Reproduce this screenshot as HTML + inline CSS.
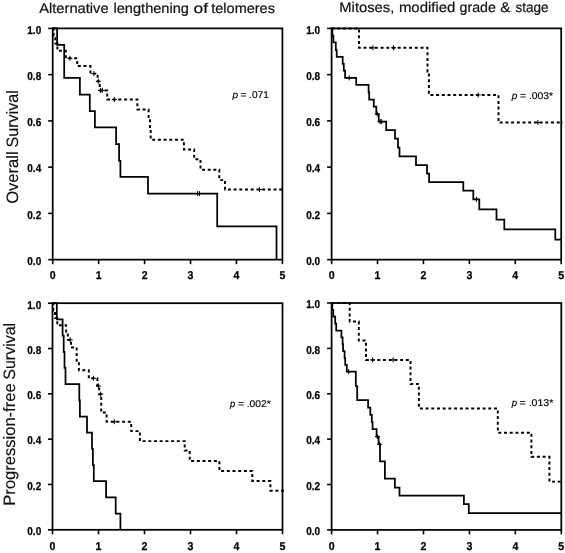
<!DOCTYPE html>
<html><head><meta charset="utf-8"><style>
html,body{margin:0;padding:0;background:#fff;}
svg{display:block;will-change:transform;}
text{font-family:"Liberation Sans",sans-serif;fill:#000;stroke:none;text-rendering:geometricPrecision;}
.tk{font-size:11.3px;font-weight:bold;stroke:#000;stroke-width:0.25px;}
.ti{font-size:14px;fill:#111;stroke:#111;stroke-width:0.2px;}
.yl{font-size:16.5px;fill:#111;stroke:#111;stroke-width:0.15px;}
.pv{font-size:9.8px;stroke:#000;stroke-width:0.15px;}
</style></head><body>
<svg width="565" height="553" viewBox="0 0 565 553">
<rect width="565" height="553" fill="#fff"/>
<g stroke="#000" stroke-linecap="butt" fill="none">
<rect x="52.70" y="28.40" width="229.70" height="231.25" fill="none" stroke-width="1.75"/>
<line x1="52.70" y1="259.65" x2="52.70" y2="264.15" stroke-width="1.6"/>
<text class="tk" x="52.70" y="278.8" text-anchor="middle" textLength="5.9" lengthAdjust="spacingAndGlyphs">0</text>
<line x1="98.64" y1="259.65" x2="98.64" y2="264.15" stroke-width="1.6"/>
<text class="tk" x="98.64" y="278.8" text-anchor="middle" textLength="5.9" lengthAdjust="spacingAndGlyphs">1</text>
<line x1="144.58" y1="259.65" x2="144.58" y2="264.15" stroke-width="1.6"/>
<text class="tk" x="144.58" y="278.8" text-anchor="middle" textLength="5.9" lengthAdjust="spacingAndGlyphs">2</text>
<line x1="190.52" y1="259.65" x2="190.52" y2="264.15" stroke-width="1.6"/>
<text class="tk" x="190.52" y="278.8" text-anchor="middle" textLength="5.9" lengthAdjust="spacingAndGlyphs">3</text>
<line x1="236.46" y1="259.65" x2="236.46" y2="264.15" stroke-width="1.6"/>
<text class="tk" x="236.46" y="278.8" text-anchor="middle" textLength="5.9" lengthAdjust="spacingAndGlyphs">4</text>
<line x1="282.40" y1="259.65" x2="282.40" y2="264.15" stroke-width="1.6"/>
<text class="tk" x="282.40" y="278.8" text-anchor="middle" textLength="5.9" lengthAdjust="spacingAndGlyphs">5</text>
<line x1="48.20" y1="259.65" x2="52.70" y2="259.65" stroke-width="1.6"/>
<text class="tk" x="41.2" y="264.95" text-anchor="end" textLength="13.9" lengthAdjust="spacingAndGlyphs">0.0</text>
<line x1="48.20" y1="213.40" x2="52.70" y2="213.40" stroke-width="1.6"/>
<text class="tk" x="41.2" y="218.70" text-anchor="end" textLength="13.9" lengthAdjust="spacingAndGlyphs">0.2</text>
<line x1="48.20" y1="167.15" x2="52.70" y2="167.15" stroke-width="1.6"/>
<text class="tk" x="41.2" y="172.45" text-anchor="end" textLength="13.9" lengthAdjust="spacingAndGlyphs">0.4</text>
<line x1="48.20" y1="120.90" x2="52.70" y2="120.90" stroke-width="1.6"/>
<text class="tk" x="41.2" y="126.20" text-anchor="end" textLength="13.9" lengthAdjust="spacingAndGlyphs">0.6</text>
<line x1="48.20" y1="74.65" x2="52.70" y2="74.65" stroke-width="1.6"/>
<text class="tk" x="41.2" y="79.95" text-anchor="end" textLength="13.9" lengthAdjust="spacingAndGlyphs">0.8</text>
<line x1="48.20" y1="28.40" x2="52.70" y2="28.40" stroke-width="1.6"/>
<text class="tk" x="41.2" y="33.70" text-anchor="end" textLength="13.9" lengthAdjust="spacingAndGlyphs">1.0</text>
<rect x="331.60" y="28.40" width="229.60" height="231.25" fill="none" stroke-width="1.75"/>
<line x1="331.60" y1="259.65" x2="331.60" y2="264.15" stroke-width="1.6"/>
<text class="tk" x="331.60" y="278.8" text-anchor="middle" textLength="5.9" lengthAdjust="spacingAndGlyphs">0</text>
<line x1="377.52" y1="259.65" x2="377.52" y2="264.15" stroke-width="1.6"/>
<text class="tk" x="377.52" y="278.8" text-anchor="middle" textLength="5.9" lengthAdjust="spacingAndGlyphs">1</text>
<line x1="423.44" y1="259.65" x2="423.44" y2="264.15" stroke-width="1.6"/>
<text class="tk" x="423.44" y="278.8" text-anchor="middle" textLength="5.9" lengthAdjust="spacingAndGlyphs">2</text>
<line x1="469.36" y1="259.65" x2="469.36" y2="264.15" stroke-width="1.6"/>
<text class="tk" x="469.36" y="278.8" text-anchor="middle" textLength="5.9" lengthAdjust="spacingAndGlyphs">3</text>
<line x1="515.28" y1="259.65" x2="515.28" y2="264.15" stroke-width="1.6"/>
<text class="tk" x="515.28" y="278.8" text-anchor="middle" textLength="5.9" lengthAdjust="spacingAndGlyphs">4</text>
<line x1="561.20" y1="259.65" x2="561.20" y2="264.15" stroke-width="1.6"/>
<text class="tk" x="561.20" y="278.8" text-anchor="middle" textLength="5.9" lengthAdjust="spacingAndGlyphs">5</text>
<line x1="327.10" y1="259.65" x2="331.60" y2="259.65" stroke-width="1.6"/>
<text class="tk" x="320.1" y="264.95" text-anchor="end" textLength="13.9" lengthAdjust="spacingAndGlyphs">0.0</text>
<line x1="327.10" y1="213.40" x2="331.60" y2="213.40" stroke-width="1.6"/>
<text class="tk" x="320.1" y="218.70" text-anchor="end" textLength="13.9" lengthAdjust="spacingAndGlyphs">0.2</text>
<line x1="327.10" y1="167.15" x2="331.60" y2="167.15" stroke-width="1.6"/>
<text class="tk" x="320.1" y="172.45" text-anchor="end" textLength="13.9" lengthAdjust="spacingAndGlyphs">0.4</text>
<line x1="327.10" y1="120.90" x2="331.60" y2="120.90" stroke-width="1.6"/>
<text class="tk" x="320.1" y="126.20" text-anchor="end" textLength="13.9" lengthAdjust="spacingAndGlyphs">0.6</text>
<line x1="327.10" y1="74.65" x2="331.60" y2="74.65" stroke-width="1.6"/>
<text class="tk" x="320.1" y="79.95" text-anchor="end" textLength="13.9" lengthAdjust="spacingAndGlyphs">0.8</text>
<line x1="327.10" y1="28.40" x2="331.60" y2="28.40" stroke-width="1.6"/>
<text class="tk" x="320.1" y="33.70" text-anchor="end" textLength="13.9" lengthAdjust="spacingAndGlyphs">1.0</text>
<rect x="52.50" y="303.20" width="230.00" height="226.60" fill="none" stroke-width="1.75"/>
<line x1="52.50" y1="529.80" x2="52.50" y2="534.30" stroke-width="1.6"/>
<text class="tk" x="52.50" y="550.2" text-anchor="middle" textLength="5.9" lengthAdjust="spacingAndGlyphs">0</text>
<line x1="98.50" y1="529.80" x2="98.50" y2="534.30" stroke-width="1.6"/>
<text class="tk" x="98.50" y="550.2" text-anchor="middle" textLength="5.9" lengthAdjust="spacingAndGlyphs">1</text>
<line x1="144.50" y1="529.80" x2="144.50" y2="534.30" stroke-width="1.6"/>
<text class="tk" x="144.50" y="550.2" text-anchor="middle" textLength="5.9" lengthAdjust="spacingAndGlyphs">2</text>
<line x1="190.50" y1="529.80" x2="190.50" y2="534.30" stroke-width="1.6"/>
<text class="tk" x="190.50" y="550.2" text-anchor="middle" textLength="5.9" lengthAdjust="spacingAndGlyphs">3</text>
<line x1="236.50" y1="529.80" x2="236.50" y2="534.30" stroke-width="1.6"/>
<text class="tk" x="236.50" y="550.2" text-anchor="middle" textLength="5.9" lengthAdjust="spacingAndGlyphs">4</text>
<line x1="282.50" y1="529.80" x2="282.50" y2="534.30" stroke-width="1.6"/>
<text class="tk" x="282.50" y="550.2" text-anchor="middle" textLength="5.9" lengthAdjust="spacingAndGlyphs">5</text>
<line x1="48.00" y1="529.80" x2="52.50" y2="529.80" stroke-width="1.6"/>
<text class="tk" x="41.2" y="535.10" text-anchor="end" textLength="13.9" lengthAdjust="spacingAndGlyphs">0.0</text>
<line x1="48.00" y1="484.48" x2="52.50" y2="484.48" stroke-width="1.6"/>
<text class="tk" x="41.2" y="489.78" text-anchor="end" textLength="13.9" lengthAdjust="spacingAndGlyphs">0.2</text>
<line x1="48.00" y1="439.16" x2="52.50" y2="439.16" stroke-width="1.6"/>
<text class="tk" x="41.2" y="444.46" text-anchor="end" textLength="13.9" lengthAdjust="spacingAndGlyphs">0.4</text>
<line x1="48.00" y1="393.84" x2="52.50" y2="393.84" stroke-width="1.6"/>
<text class="tk" x="41.2" y="399.14" text-anchor="end" textLength="13.9" lengthAdjust="spacingAndGlyphs">0.6</text>
<line x1="48.00" y1="348.52" x2="52.50" y2="348.52" stroke-width="1.6"/>
<text class="tk" x="41.2" y="353.82" text-anchor="end" textLength="13.9" lengthAdjust="spacingAndGlyphs">0.8</text>
<line x1="48.00" y1="303.20" x2="52.50" y2="303.20" stroke-width="1.6"/>
<text class="tk" x="41.2" y="308.50" text-anchor="end" textLength="13.9" lengthAdjust="spacingAndGlyphs">1.0</text>
<rect x="331.60" y="303.00" width="229.70" height="226.90" fill="none" stroke-width="1.75"/>
<line x1="331.60" y1="529.90" x2="331.60" y2="534.40" stroke-width="1.6"/>
<text class="tk" x="331.60" y="550.2" text-anchor="middle" textLength="5.9" lengthAdjust="spacingAndGlyphs">0</text>
<line x1="377.54" y1="529.90" x2="377.54" y2="534.40" stroke-width="1.6"/>
<text class="tk" x="377.54" y="550.2" text-anchor="middle" textLength="5.9" lengthAdjust="spacingAndGlyphs">1</text>
<line x1="423.48" y1="529.90" x2="423.48" y2="534.40" stroke-width="1.6"/>
<text class="tk" x="423.48" y="550.2" text-anchor="middle" textLength="5.9" lengthAdjust="spacingAndGlyphs">2</text>
<line x1="469.42" y1="529.90" x2="469.42" y2="534.40" stroke-width="1.6"/>
<text class="tk" x="469.42" y="550.2" text-anchor="middle" textLength="5.9" lengthAdjust="spacingAndGlyphs">3</text>
<line x1="515.36" y1="529.90" x2="515.36" y2="534.40" stroke-width="1.6"/>
<text class="tk" x="515.36" y="550.2" text-anchor="middle" textLength="5.9" lengthAdjust="spacingAndGlyphs">4</text>
<line x1="561.30" y1="529.90" x2="561.30" y2="534.40" stroke-width="1.6"/>
<text class="tk" x="561.30" y="550.2" text-anchor="middle" textLength="5.9" lengthAdjust="spacingAndGlyphs">5</text>
<line x1="327.10" y1="529.90" x2="331.60" y2="529.90" stroke-width="1.6"/>
<text class="tk" x="320.1" y="535.20" text-anchor="end" textLength="13.9" lengthAdjust="spacingAndGlyphs">0.0</text>
<line x1="327.10" y1="484.52" x2="331.60" y2="484.52" stroke-width="1.6"/>
<text class="tk" x="320.1" y="489.82" text-anchor="end" textLength="13.9" lengthAdjust="spacingAndGlyphs">0.2</text>
<line x1="327.10" y1="439.14" x2="331.60" y2="439.14" stroke-width="1.6"/>
<text class="tk" x="320.1" y="444.44" text-anchor="end" textLength="13.9" lengthAdjust="spacingAndGlyphs">0.4</text>
<line x1="327.10" y1="393.76" x2="331.60" y2="393.76" stroke-width="1.6"/>
<text class="tk" x="320.1" y="399.06" text-anchor="end" textLength="13.9" lengthAdjust="spacingAndGlyphs">0.6</text>
<line x1="327.10" y1="348.38" x2="331.60" y2="348.38" stroke-width="1.6"/>
<text class="tk" x="320.1" y="353.68" text-anchor="end" textLength="13.9" lengthAdjust="spacingAndGlyphs">0.8</text>
<line x1="327.10" y1="303.00" x2="331.60" y2="303.00" stroke-width="1.6"/>
<text class="tk" x="320.1" y="308.30" text-anchor="end" textLength="13.9" lengthAdjust="spacingAndGlyphs">1.0</text>
<path d="M 52.7 28.4 H 57.1 V 44.8 H 64.2 V 77.9 H 79.9 V 94.5 H 89.8 V 111.1 H 94.9 V 127.4 H 116.1 V 144.0 H 119.1 V 160.8 H 120.4 V 176.8 H 148.0 V 193.6 H 217.2 V 226.4 H 276.5 V 259.65" fill="none" stroke-width="1.75"/>
<path d="M 52.7 28.4 H 53.7 V 35.8 H 55.3 V 43.4 H 57.4 V 50.7 H 65.8 V 58.3 H 77.2 V 66.0 H 90.5 V 73.6 H 97.6 V 81.3 H 99.7 V 90.4 H 107.2 V 99.5 H 137.4 V 109.5 H 148.6 V 118.5 H 150.0 V 128.8 H 150.7 V 139.8 H 183.9 V 149.5 H 194.2 V 159.3 H 200.5 V 169.8 H 219.3 V 180.1 H 225.0 V 189.5 H 284.0" fill="none" stroke-width="1.95" stroke-dasharray="3 2.7"/>
<path d="M 195.1 193.6 H 200.1 M 197.6 191.1 V 196.1" stroke-width="1.0"/>
<path d="M 196.9 193.6 H 201.9 M 199.4 191.1 V 196.1" stroke-width="1.0"/>
<path d="M 67.4 58.3 H 72.4 M 69.9 55.8 V 60.8" stroke-width="1.0"/>
<path d="M 91.4 73.6 H 96.4 M 93.9 71.1 V 76.1" stroke-width="1.0"/>
<path d="M 95.8 81.3 H 100.8 M 98.3 78.8 V 83.8" stroke-width="1.0"/>
<path d="M 98.1 90.4 H 103.1 M 100.6 87.9 V 92.9" stroke-width="1.0"/>
<path d="M 99.8 90.4 H 104.8 M 102.3 87.9 V 92.9" stroke-width="1.0"/>
<path d="M 111.8 99.5 H 116.8 M 114.3 97.0 V 102.0" stroke-width="1.0"/>
<path d="M 257.1 189.5 H 262.1 M 259.6 187.0 V 192.0" stroke-width="1.0"/>
<path d="M 331.6 28.4 H 332.4 V 35.5 H 333.4 V 42.4 H 335.8 V 50.0 H 336.7 V 56.8 H 342.7 V 63.8 H 343.8 V 70.7 H 345.1 V 77.9 H 356.2 V 84.9 H 368.6 V 92.2 H 369.2 V 99.5 H 373.8 V 106.6 H 376.3 V 114.0 H 378.7 V 121.6 H 386.2 V 130.0 H 395.0 V 138.7 H 398.0 V 147.6 H 399.5 V 156.4 H 416.0 V 165.0 H 427.0 V 173.6 H 429.1 V 182.1 H 463.3 V 190.6 H 473.3 V 199.3 H 479.3 V 209.4 H 496.5 V 219.6 H 504.3 V 229.4 H 555.3 V 239.5 H 561.2" fill="none" stroke-width="1.75"/>
<path d="M 331.6 28.4 H 359.0 V 47.8 H 427.5 V 71.5 H 428.9 V 94.9 H 498.5 V 122.5 H 562.8" fill="none" stroke-width="1.95" stroke-dasharray="3 2.7"/>
<path d="M 346.7 77.9 H 351.7 M 349.2 75.4 V 80.4" stroke-width="1.0"/>
<path d="M 374.7 114.0 H 379.7 M 377.2 111.5 V 116.5" stroke-width="1.0"/>
<path d="M 377.7 121.6 H 382.7 M 380.2 119.1 V 124.1" stroke-width="1.0"/>
<path d="M 379.1 121.6 H 384.1 M 381.6 119.1 V 124.1" stroke-width="1.0"/>
<path d="M 474.0 199.3 H 479.0 M 476.5 196.8 V 201.8" stroke-width="1.0"/>
<path d="M 370.4 47.8 H 375.4 M 372.9 45.3 V 50.3" stroke-width="1.0"/>
<path d="M 391.0 47.8 H 396.0 M 393.5 45.3 V 50.3" stroke-width="1.0"/>
<path d="M 475.7 94.9 H 480.7 M 478.2 92.4 V 97.4" stroke-width="1.0"/>
<path d="M 535.4 122.5 H 540.4 M 537.9 120.0 V 125.0" stroke-width="1.0"/>
<path d="M 52.5 303.2 H 56.8 V 319.4 H 62.6 V 335.6 H 63.7 V 351.8 H 64.5 V 367.9 H 65.5 V 384.1 H 79.3 V 400.3 H 79.9 V 416.5 H 87.0 V 432.7 H 92.0 V 448.9 H 92.9 V 465.1 H 93.8 V 481.2 H 106.1 V 497.4 H 115.7 V 513.6 H 120.4 V 529.8" fill="none" stroke-width="1.75"/>
<path d="M 52.5 303.2 H 53.4 V 310.5 H 55.0 V 317.9 H 57.3 V 325.3 H 66.1 V 332.5 H 67.8 V 339.8 H 71.0 V 347.4 H 76.7 V 362.0 H 78.9 V 370.3 H 88.8 V 378.3 H 97.4 V 386.0 H 99.2 V 394.2 H 101.2 V 412.5 H 106.6 V 421.7 H 131.2 V 431.1 H 139.9 V 441.1 H 184.7 V 450.5 H 189.7 V 461.0 H 219.4 V 470.9 H 252.3 V 481.0 H 270.4 V 490.7 H 284.0" fill="none" stroke-width="1.95" stroke-dasharray="3 2.7"/>
<path d="M 67.7 339.8 H 72.7 M 70.2 337.3 V 342.3" stroke-width="1.0"/>
<path d="M 91.0 378.3 H 96.0 M 93.5 375.8 V 380.8" stroke-width="1.0"/>
<path d="M 96.1 386.0 H 101.1 M 98.6 383.5 V 388.5" stroke-width="1.0"/>
<path d="M 98.2 394.2 H 103.2 M 100.7 391.7 V 396.7" stroke-width="1.0"/>
<path d="M 111.8 421.7 H 116.8 M 114.3 419.2 V 424.2" stroke-width="1.0"/>
<path d="M 331.6 303.0 H 332.3 V 309.9 H 333.3 V 316.7 H 335.2 V 323.6 H 336.2 V 330.5 H 341.4 V 337.4 H 342.6 V 344.2 H 343.1 V 351.1 H 344.6 V 358.0 H 345.2 V 364.8 H 346.8 V 371.7 H 355.8 V 386.0 H 357.2 V 400.2 H 368.1 V 407.7 H 370.3 V 414.9 H 371.8 V 422.2 H 372.6 V 429.2 H 376.6 V 436.6 H 378.6 V 444.2 H 380.0 V 461.4 H 384.9 V 478.7 H 394.9 V 487.7 H 399.5 V 495.5 H 463.9 V 504.2 H 468.8 V 513.1 H 561.3" fill="none" stroke-width="1.75"/>
<path d="M 331.6 303.0 H 349.7 V 321.5 H 358.8 V 340.5 H 366.0 V 359.9 H 410.5 V 384.0 H 418.9 V 408.5 H 497.8 V 432.7 H 531.4 V 456.8 H 549.4 V 481.6 H 562.8" fill="none" stroke-width="1.95" stroke-dasharray="3 2.7"/>
<path d="M 346.2 371.7 H 351.2 M 348.7 369.2 V 374.2" stroke-width="1.0"/>
<path d="M 374.8 436.6 H 379.8 M 377.3 434.1 V 439.1" stroke-width="1.0"/>
<path d="M 377.0 444.2 H 382.0 M 379.5 441.7 V 446.7" stroke-width="1.0"/>
<path d="M 370.0 359.9 H 375.0 M 372.5 357.4 V 362.4" stroke-width="1.0"/>
<path d="M 390.6 359.9 H 395.6 M 393.1 357.4 V 362.4" stroke-width="1.0"/>
</g>
<text class="ti" x="39.17" y="12.5" textLength="69.48" lengthAdjust="spacingAndGlyphs">Alternative</text>
<text class="ti" x="113.52" y="12.5" textLength="75.42" lengthAdjust="spacingAndGlyphs">lengthening</text>
<text class="ti" x="193.47" y="12.5" textLength="14.50" lengthAdjust="spacingAndGlyphs">of</text>
<text class="ti" x="211.28" y="12.5" textLength="63.64" lengthAdjust="spacingAndGlyphs">telomeres</text>
<text class="ti" x="339.29" y="12.4" textLength="55.04" lengthAdjust="spacingAndGlyphs">Mitoses,</text>
<text class="ti" x="398.91" y="12.4" textLength="56.45" lengthAdjust="spacingAndGlyphs">modified</text>
<text class="ti" x="459.60" y="12.4" textLength="36.33" lengthAdjust="spacingAndGlyphs">grade</text>
<text class="ti" x="500.36" y="12.4" textLength="10.28" lengthAdjust="spacingAndGlyphs">&amp;</text>
<text class="ti" x="515.42" y="12.4" textLength="33.18" lengthAdjust="spacingAndGlyphs">stage</text>
<text class="yl" transform="translate(18.0,203.78) rotate(-90)" textLength="52.39" lengthAdjust="spacingAndGlyphs">Overall</text>
<text class="yl" transform="translate(18.0,147.53) rotate(-90)" textLength="57.41" lengthAdjust="spacingAndGlyphs">Survival</text>
<text class="yl" transform="translate(14.9,505.66) rotate(-90)" textLength="122.29" lengthAdjust="spacingAndGlyphs">Progression-free</text>
<text class="yl" transform="translate(14.9,379.73) rotate(-90)" textLength="56.90" lengthAdjust="spacingAndGlyphs">Survival</text>
<text class="pv" x="232.45" y="98.0" textLength="5.57" lengthAdjust="spacingAndGlyphs" font-style="italic">p</text>
<text class="pv" x="240.41" y="98.0" textLength="28.39" lengthAdjust="spacingAndGlyphs">= .071</text>
<text class="pv" x="511.75" y="98.6" textLength="5.57" lengthAdjust="spacingAndGlyphs" font-style="italic">p</text>
<text class="pv" x="520.00" y="98.6" textLength="33.07" lengthAdjust="spacingAndGlyphs">= .003*</text>
<text class="pv" x="230.04" y="406.8" textLength="5.27" lengthAdjust="spacingAndGlyphs" font-style="italic">p</text>
<text class="pv" x="237.90" y="406.8" textLength="32.86" lengthAdjust="spacingAndGlyphs">= .002*</text>
<text class="pv" x="511.74" y="406.3" textLength="5.27" lengthAdjust="spacingAndGlyphs" font-style="italic">p</text>
<text class="pv" x="519.58" y="406.3" textLength="33.78" lengthAdjust="spacingAndGlyphs">= .013*</text>
</svg>
</body></html>
